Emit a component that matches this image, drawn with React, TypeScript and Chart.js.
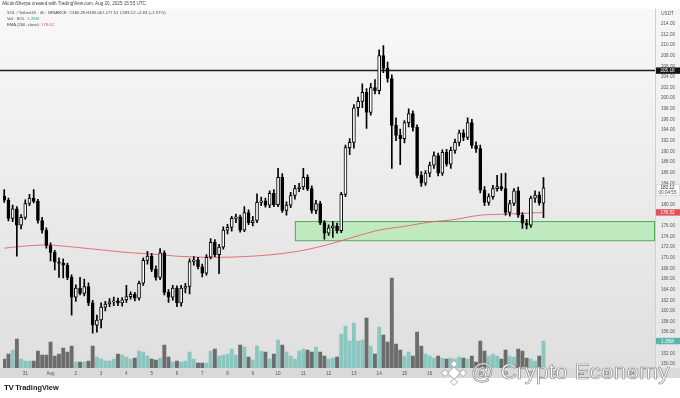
import React, { useEffect, useRef } from "react";
import { Chart, registerables } from "chart.js";
Chart.register(...registerables);

// 4h candles, index 0 = Jul 30 00:00 UTC; first visible candle is index 1
const firstCandle = 1;
const opens = [
  181.6, 180.8, 177.4, 179.2, 176.1, 177.6, 180.2, 181.2, 180.6, 177.0,
  175.2, 172.3, 171.0, 169.2, 169.0, 168.6, 166.3, 162.6, 164.3, 163.3,
  164.6, 161.5, 157.3, 158.3, 160.7, 161.3, 161.7, 161.9, 161.5, 162.1,
  162.7, 163.1, 162.4, 165.2, 169.5, 170.3, 167.8, 166.3, 170.9, 163.5,
  162.6, 164.3, 161.5, 164.3, 164.6, 169.3, 169.6, 168.3, 167.1, 170.1,
  172.9, 170.6, 172.0, 175.2, 175.7, 177.4, 177.7, 175.2, 178.5, 176.6,
  177.0, 180.4, 180.7, 179.9, 182.1, 180.0, 185.1, 178.9, 179.9, 181.7,
  183.0, 183.3, 185.1, 183.0, 178.9, 180.2, 176.6, 174.6, 175.6, 176.0,
  175.1, 181.9, 190.7, 191.7, 198.2, 199.4, 201.1, 197.3, 202.0, 201.4,
  208.0, 205.6, 203.7, 194.9, 193.0, 192.4, 195.4, 197.1, 194.5, 185.5,
  184.0, 185.9, 187.4, 189.2, 185.9, 189.8, 187.6, 190.2, 191.7, 193.5,
  192.6, 195.4, 191.1, 190.5, 182.7, 180.4, 181.5, 183.0, 183.4, 183.0,
  178.5, 180.2, 182.6, 178.0, 176.5, 176.1, 181.2, 181.8, 180.28
];
const highs = [
  182.8, 181.2, 179.9, 179.6, 178.1, 180.9, 181.9, 182.8, 181.0, 177.6,
  175.6, 172.8, 171.4, 170.0, 169.8, 169.0, 166.8, 164.9, 166.3, 166.0,
  165.3, 162.0, 159.2, 161.5, 161.8, 162.3, 162.6, 162.4, 162.5, 164.8,
  163.6, 163.5, 165.6, 170.0, 171.2, 170.8, 168.5, 171.7, 171.3, 164.0,
  164.8, 164.7, 164.8, 165.2, 169.8, 170.2, 170.1, 168.8, 170.6, 173.6,
  173.4, 172.5, 175.8, 176.3, 177.8, 178.2, 178.0, 179.6, 179.0, 177.8,
  182.0, 181.4, 181.2, 182.6, 182.8, 186.8, 185.8, 180.5, 182.3, 183.6,
  184.0, 186.8, 185.6, 183.5, 180.8, 180.6, 177.0, 176.2, 176.8, 176.5,
  182.3, 191.2, 192.4, 198.8, 200.2, 202.7, 201.8, 202.8, 203.5, 209.1,
  209.9, 206.8, 204.4, 196.3, 194.2, 195.8, 198.0, 197.6, 195.0, 186.2,
  186.4, 188.0, 189.9, 189.7, 190.3, 190.4, 190.8, 192.3, 194.0, 194.1,
  196.3, 196.0, 191.8, 191.2, 183.4, 182.0, 183.6, 185.5, 185.8, 185.9,
  180.8, 183.0, 183.3, 178.5, 177.2, 181.6, 182.6, 182.4, 185.06
];
const lows = [
  180.4, 176.9, 176.8, 170.3, 175.4, 177.2, 179.8, 180.3, 176.5, 174.6,
  171.8, 169.4, 167.7, 166.3, 166.2, 165.9, 159.2, 161.8, 163.0, 162.8,
  161.0, 155.8, 156.0, 156.8, 160.0, 160.8, 161.0, 161.0, 160.9, 161.6,
  162.2, 161.9, 162.0, 164.8, 168.8, 167.4, 165.8, 165.9, 163.0, 161.6,
  162.0, 160.8, 160.9, 163.4, 163.2, 168.6, 167.9, 166.4, 166.7, 169.8,
  170.2, 167.0, 171.6, 174.5, 175.0, 176.6, 174.8, 174.9, 176.2, 176.0,
  176.6, 179.8, 179.5, 179.4, 179.6, 179.6, 178.5, 178.0, 179.4, 181.0,
  182.4, 182.8, 182.6, 178.4, 178.3, 176.2, 173.5, 174.2, 173.8, 174.6,
  174.7, 181.5, 189.4, 190.6, 196.6, 198.2, 194.3, 196.8, 200.8, 200.8,
  204.8, 203.0, 186.8, 192.0, 187.5, 191.6, 194.6, 193.8, 185.0, 183.4,
  183.6, 185.2, 186.8, 185.4, 185.5, 187.2, 186.8, 189.6, 191.0, 192.0,
  192.2, 190.6, 189.8, 182.2, 179.8, 179.9, 181.0, 182.5, 182.6, 178.0,
  177.8, 179.8, 177.6, 175.5, 175.4, 175.7, 180.4, 179.9, 177.51
];
const closes = [
  180.8, 177.4, 179.2, 176.1, 177.6, 180.2, 181.2, 180.6, 177.0, 175.2,
  172.3, 171.0, 169.2, 169.0, 168.6, 166.3, 162.6, 164.3, 163.3, 164.6,
  161.5, 157.3, 158.3, 160.7, 161.3, 161.7, 161.9, 161.5, 162.1, 162.7,
  163.1, 162.4, 165.2, 169.5, 170.3, 167.8, 166.3, 170.9, 163.5, 162.6,
  164.3, 161.5, 164.3, 164.6, 169.3, 169.6, 168.3, 167.1, 170.1, 172.9,
  170.6, 172.0, 175.2, 175.7, 177.4, 177.7, 175.2, 178.5, 176.6, 177.0,
  180.4, 180.7, 179.9, 182.1, 180.0, 185.1, 178.9, 179.9, 181.7, 183.0,
  183.3, 185.1, 183.0, 178.9, 180.2, 176.6, 174.6, 175.6, 176.0, 175.1,
  181.9, 190.7, 191.7, 198.2, 199.4, 201.1, 197.3, 202.0, 201.4, 208.0,
  205.6, 203.7, 194.9, 193.0, 192.4, 195.4, 197.1, 194.5, 185.5, 184.0,
  185.9, 187.4, 189.2, 185.9, 189.8, 187.6, 190.2, 191.7, 193.5, 192.6,
  195.4, 191.1, 190.5, 182.7, 180.4, 181.5, 183.0, 183.4, 183.0, 178.5,
  180.2, 182.6, 178.0, 176.5, 176.1, 181.2, 181.8, 180.3, 183.12
];
// volume in millions of SOL
const volumes = [
  0.45, 0.70, 0.90, 1.45, 0.45, 0.35, 0.35, 0.35, 0.85, 0.65,
  0.65, 1.30, 0.60, 0.70, 1.00, 0.80, 1.10, 0.30, 0.30, 0.30,
  0.35, 1.10, 0.55, 0.45, 0.35, 0.35, 0.45, 0.70, 0.65, 0.55,
  0.45, 0.50, 0.85, 0.80, 0.60, 0.45, 0.40, 0.50, 1.15, 0.55,
  0.30, 0.35, 0.30, 0.35, 0.80, 0.45, 0.25, 0.25, 0.25, 0.85,
  0.95, 0.60, 0.65, 0.70, 0.95, 0.65, 1.15, 1.05, 0.55, 0.40,
  1.10, 0.85, 0.80, 0.45, 0.70, 1.40, 1.15, 0.80, 0.60, 0.45,
  0.85, 0.95, 0.90, 0.80, 1.05, 0.80, 0.60, 0.45, 0.50, 0.55,
  1.70, 2.10, 1.35, 2.25, 1.35, 1.40, 2.50, 1.10, 0.70, 2.05,
  1.65, 1.30, 4.50, 1.20, 0.90, 0.60, 0.80, 0.60, 1.80, 1.10,
  0.70, 0.60, 0.50, 0.60, 0.50, 0.45, 0.50, 0.45, 0.55, 0.50,
  0.45, 0.60, 0.30, 1.35, 0.85, 0.60, 0.70, 0.60, 0.45, 0.90,
  0.60, 0.55, 0.95, 0.85, 0.50, 0.45, 0.35, 0.60, 1.35
];
const emaIdx = [1, 6, 11, 15, 20, 25, 30, 36, 42, 48, 54, 60, 66, 72, 78, 84, 90, 96, 102, 108, 114, 120, 126, 129];
const emaVals = [171.8, 172.2, 172.4, 172.2, 171.8, 171.4, 171.0, 170.7, 170.3, 170.1, 170.1, 170.3, 170.7, 171.4, 172.5, 173.9, 175.2, 175.9, 176.7, 177.2, 178.0, 178.2, 178.4, 178.5];
const dayTickIdx = [6, 12, 18, 24, 30, 36, 42, 48, 54, 60, 66, 72, 78, 84, 90, 96, 102, 108, 114, 120, 126, 132, 138, 144, 150];
const dayLabels = ["31", "Aug", "2", "3", "4", "5", "6", "7", "8", "9", "10", "11", "12", "13", "14", "15", "16", "17", "18", "19", "20", "21", "22", "23", "24"];
const priceTicks = [214, 212, 210, 208, 206, 204, 202, 200, 198, 196, 194, 192, 190, 188, 186, 184, 180, 176, 174, 172, 170, 168, 166, 164, 162, 160, 158, 156, 152, 150];
const resistanceLevel = 205.18;
const zoneTop = 176.9;
const zoneBottom = 173.3;
const zoneStartIdx = 70;
const lastClose = 183.12;
const lastEma = 178.52;
const lastVolumeLabel = "1.35M";
const countdown = "00:04:55";

const FONT = '"Liberation Sans", Arial, sans-serif';

export default function App() {
  const ref = useRef<HTMLCanvasElement | null>(null);

  useEffect(() => {
    const canvas = ref.current;
    if (!canvas) return;
    const xs = closes.map((_, k) => k + firstCandle);
    const isUp = closes.map((c, k) => c >= opens[k]);

    const bgPlugin = {
      id: "bg",
      beforeDraw(chart: any) {
        const { ctx, chartArea } = chart;
        ctx.save();
        ctx.fillStyle = "#ffffff";
        ctx.fillRect(0, 0, chart.width, chart.height);
        const g = ctx.createLinearGradient(0, chartArea.top, 0, chartArea.bottom);
        g.addColorStop(0, "#f8f8f8");
        g.addColorStop(1, "#dfdfdf");
        ctx.fillStyle = g;
        ctx.fillRect(0, chartArea.top, chartArea.right, chartArea.bottom - chartArea.top);
        const g2 = ctx.createLinearGradient(0, chartArea.top, 0, chartArea.bottom);
        g2.addColorStop(0, "#f6f6f6");
        g2.addColorStop(1, "#e6e6e6");
        ctx.fillStyle = g2;
        ctx.fillRect(chartArea.right, chartArea.top, chart.width - chartArea.right, chartArea.bottom - chartArea.top);
        ctx.fillStyle = "#d9d9d9";
        ctx.fillRect(0, chartArea.bottom, chart.width, 10);
        ctx.strokeStyle = "#cfcfcf";
        ctx.lineWidth = 1;
        ctx.beginPath();
        ctx.moveTo(chartArea.right + 0.5, chartArea.top);
        ctx.lineTo(chartArea.right + 0.5, chartArea.bottom + 10);
        ctx.stroke();
        ctx.restore();
      },
      beforeDatasetsDraw(chart: any) {
        const { ctx, chartArea, scales } = chart;
        const y = scales.y;
        const x = scales.x;
        ctx.save();
        const x0 = x.getPixelForValue(zoneStartIdx);
        const yTop = y.getPixelForValue(zoneTop);
        const yBot = y.getPixelForValue(zoneBottom);
        ctx.fillStyle = "rgba(150,235,150,0.5)";
        ctx.fillRect(x0, yTop, chartArea.right - x0, yBot - yTop);
        ctx.strokeStyle = "rgba(60,160,70,0.85)";
        ctx.lineWidth = 1;
        ctx.strokeRect(x0 + 0.5, yTop + 0.5, chartArea.right - x0 - 1, yBot - yTop);
        const yr = y.getPixelForValue(resistanceLevel);
        ctx.strokeStyle = "#1a1a1a";
        ctx.lineWidth = 1.5;
        ctx.beginPath();
        ctx.moveTo(chartArea.left - 3, yr);
        ctx.lineTo(chartArea.right, yr);
        ctx.stroke();
        ctx.restore();
      },
      afterDraw(chart: any) {
        const { ctx, chartArea, scales } = chart;
        const y = scales.y;
        const y2 = scales.y2;
        const left = chartArea.right;
        const w = chart.width - chartArea.right;
        ctx.save();
        ctx.font = `4.6px ${FONT}`;
        ctx.textAlign = "center";
        ctx.textBaseline = "middle";
        ctx.fillStyle = "#555";
        ctx.fillText("USDT", left + w / 2, 14);
        const box = (py: number, bg: string, fg: string, text: string) => {
          ctx.fillStyle = bg;
          ctx.fillRect(left + 1, py - 3.2, w - 1, 6.4);
          ctx.fillStyle = fg;
          ctx.fillText(text, left + w / 2, py + 0.2);
        };
        box(y.getPixelForValue(resistanceLevel), "#131313", "#ffffff", resistanceLevel.toFixed(2));
        box(y.getPixelForValue(lastEma), "#e2505a", "#ffffff", lastEma.toFixed(2));
        box(y2.getPixelForValue(volumes[volumes.length - 1]), "#5eb3aa", "#ffffff", lastVolumeLabel);
        const pc = y.getPixelForValue(lastClose);
        ctx.fillStyle = "#ffffff";
        ctx.fillRect(left + 1, pc - 3.4, w - 1, 11);
        ctx.strokeStyle = "#bdbdbd";
        ctx.lineWidth = 0.5;
        ctx.strokeRect(left + 1.25, pc - 3.15, w - 1.5, 10.5);
        ctx.fillStyle = "#222";
        ctx.fillText(lastClose.toFixed(2), left + w / 2, pc + 0.2);
        ctx.fillStyle = "#444";
        ctx.fillText(countdown, left + w / 2, pc + 4.8);
        ctx.restore();
      },
    };

    const chart = new Chart(canvas, {
      type: "bar",
      data: {
        datasets: [
          {
            type: "bar",
            label: "body",
            data: xs.map((x, k) => ({ x, y: [opens[k], closes[k]] })) as any,
            backgroundColor: isUp.map((u) => (u ? "#ffffff" : "#000000")),
            borderColor: "#000000",
            borderWidth: 1,
            borderSkipped: false,
            barThickness: 3,
            minBarLength: 1,
            grouped: false,
            order: 0,
            yAxisID: "y",
          } as any,
          {
            type: "bar",
            label: "wick",
            data: xs.map((x, k) => ({ x, y: [lows[k], highs[k]] })) as any,
            backgroundColor: "#000000",
            borderWidth: 0,
            barThickness: 1,
            grouped: false,
            order: 1,
            yAxisID: "y",
          } as any,
          {
            type: "line",
            label: "EMA",
            data: emaIdx.map((x, k) => ({ x, y: emaVals[k] })),
            borderColor: "rgba(226,90,95,0.85)",
            borderWidth: 1,
            pointRadius: 0,
            tension: 0.3,
            order: 2,
            yAxisID: "y",
          } as any,
          {
            type: "bar",
            label: "Vol",
            data: xs.map((x, k) => ({ x, y: volumes[k] })),
            backgroundColor: isUp.map((u) => (u ? "rgba(38,166,154,0.45)" : "rgba(70,70,70,0.75)")),
            borderWidth: 0,
            barThickness: 3.2,
            grouped: false,
            order: 3,
            yAxisID: "y2",
          } as any,
        ],
      },
      options: {
        animation: false,
        responsive: false,
        maintainAspectRatio: false,
        events: [],
        layout: { padding: { left: 3, top: 8, right: 0, bottom: 20 } },
        plugins: { legend: { display: false }, tooltip: { enabled: false } },
        scales: {
          x: {
            type: "linear",
            min: 0.712,
            max: 155.47,
            offset: false,
            grid: { display: false, drawTicks: false },
            border: { display: false },
            afterBuildTicks: (s: any) => {
              s.ticks = dayTickIdx.map((v) => ({ value: v }));
            },
            afterFit: (s: any) => {
              s.height = 10;
            },
            ticks: {
              autoSkip: false,
              maxRotation: 0,
              padding: 2.5,
              font: { size: 4.6, family: FONT },
              color: "#555",
              callback: (_v: any, i: number) => dayLabels[i],
            },
          },
          y: {
            type: "linear",
            position: "right",
            min: 149.27,
            max: 216.81,
            grid: { display: false, drawTicks: false },
            border: { display: false },
            afterBuildTicks: (s: any) => {
              s.ticks = priceTicks.map((v) => ({ value: v }));
            },
            afterFit: (s: any) => {
              s.width = 25;
            },
            ticks: {
              autoSkip: false,
              padding: 6,
              font: { size: 4.6, family: FONT },
              color: "#555",
              callback: (v: any) => Number(v).toFixed(2),
            },
          },
          y2: {
            type: "linear",
            display: false,
            min: 0,
            max: 18,
          },
        },
      } as any,
      plugins: [bgPlugin],
    });
    return () => chart.destroy();
  }, []);

  const txt: React.CSSProperties = {
    position: "absolute",
    whiteSpace: "nowrap",
    fontFamily: FONT,
    lineHeight: "6px",
    color: "#444",
  };

  return (
    <div style={{ position: "fixed", left: 0, top: 0, width: 680, height: 398, overflow: "hidden", background: "#fff" }}>
      <canvas ref={ref} width={680} height={398} style={{ position: "absolute", left: 0, top: 0, width: 680, height: 398 }} />
      <div style={{ ...txt, left: 2, top: 1, fontSize: "4.6px" }}>
        AltcoinSherpa created with TradingView.com, Aug 20, 2025 15:55 UTC
      </div>
      <div style={{ ...txt, left: 7, top: 10, fontSize: "4.2px" }}>
        SOL / TetherUS · 4h · BINANCE&nbsp;&nbsp;O180.28 H185.06 L177.51 C183.12 +2.83 (+1.57%)
      </div>
      <div style={{ ...txt, left: 7, top: 16, fontSize: "4.2px" }}>
        Vol · SOL&nbsp;&nbsp;<span style={{ color: "#26a69a" }}>1.35M</span>
      </div>
      <div style={{ ...txt, left: 7, top: 22, fontSize: "4.2px" }}>
        EMA (200, close)&nbsp;&nbsp;<span style={{ color: "#e2505a" }}>178.52</span>
      </div>
      <div style={{ ...txt, left: 4, top: 380, lineHeight: "9px", color: "#131722" }}>
        <span style={{ fontSize: "8px", fontWeight: 900, letterSpacing: "-0.5px" }}>TV</span>
        <span style={{ fontSize: "7.4px", fontWeight: 600, marginLeft: 2 }}>TradingView</span>
      </div>
      <svg width={30} height={30} viewBox="0 0 30 30" style={{ position: "absolute", left: 439, top: 358 }}>
        <g fill="#ffffff" stroke="#9a9a9a" strokeWidth={0.8}>
          <rect x={10.5} y={10.5} width={9} height={9} transform="rotate(45 15 15)" />
          <rect x={12.5} y={3.5} width={5} height={5} transform="rotate(45 15 6)" />
          <rect x={12.5} y={21.5} width={5} height={5} transform="rotate(45 15 24)" />
          <rect x={3.5} y={12.5} width={5} height={5} transform="rotate(45 6 15)" />
          <rect x={21.5} y={12.5} width={5} height={5} transform="rotate(45 24 15)" />
        </g>
      </svg>
      <div
        style={{
          position: "absolute",
          left: 471,
          top: 359,
          whiteSpace: "nowrap",
          fontFamily: FONT,
          fontSize: "22.5px",
          lineHeight: "26px",
          letterSpacing: "0.2px",
          color: "#ffffff",
          WebkitTextStroke: "0.7px #8c8c8c",
        }}
      >
        @ Crypto Economy
      </div>
    </div>
  );
}
